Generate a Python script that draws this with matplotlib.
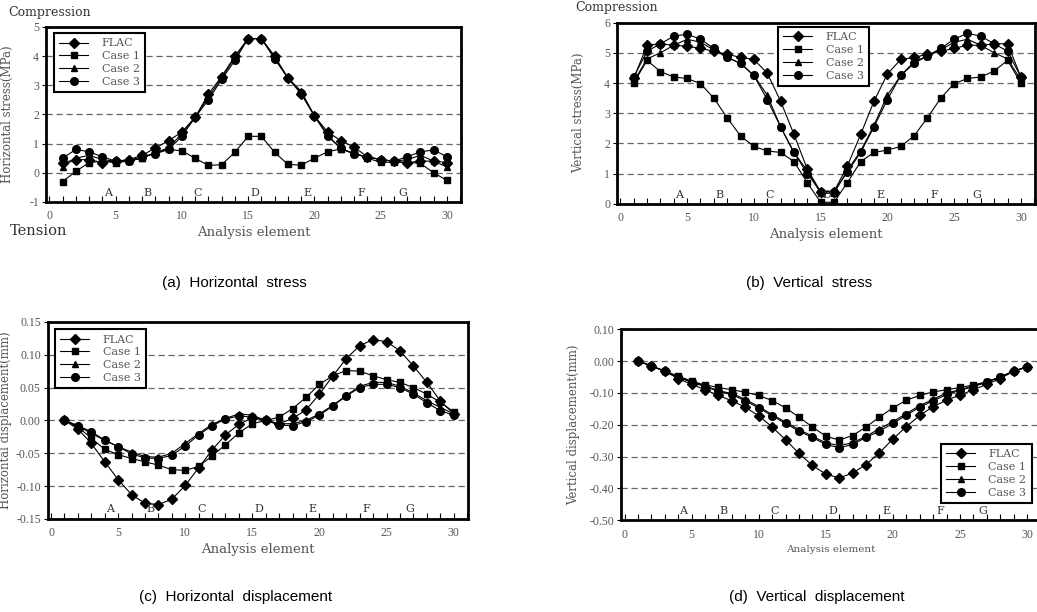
import numpy as np
import matplotlib.pyplot as plt
from matplotlib.ticker import MultipleLocator

elements = list(range(1, 31))
series_names = ["FLAC", "Case 1", "Case 2", "Case 3"]
zone_labels = ["A", "B", "C", "D", "E", "F", "G"]
zone_pos = [4.4, 7.4, 11.2, 15.5, 19.5, 23.5, 26.7]

# (a) horizontal stress (MPa)
hs_flac = [0.35, 0.45, 0.45, 0.35, 0.40, 0.45, 0.60, 0.85, 1.10, 1.40, 1.90, 2.70, 3.30, 4.00, 4.60,
           4.60, 4.00, 3.25, 2.70, 1.95, 1.40, 1.10, 0.88, 0.55, 0.45, 0.40, 0.35, 0.40, 0.40, 0.35]
hs_case1 = [-0.30, 0.05, 0.35, 0.40, 0.35, 0.40, 0.50, 0.70, 0.80, 0.75, 0.50, 0.25, 0.28, 0.70, 1.25,
            1.25, 0.70, 0.29, 0.26, 0.50, 0.72, 0.82, 0.67, 0.50, 0.36, 0.36, 0.36, 0.32, 0.00, -0.26]
hs_case2 = [0.20, 0.50, 0.60, 0.45, 0.40, 0.42, 0.50, 0.70, 0.85, 1.35, 1.90, 2.60, 3.25, 3.95, 4.60,
            4.60, 3.95, 3.25, 2.80, 1.95, 1.30, 0.82, 0.65, 0.55, 0.45, 0.40, 0.45, 0.60, 0.40, 0.20]
hs_case3 = [0.50, 0.80, 0.72, 0.55, 0.40, 0.42, 0.55, 0.65, 0.80, 1.25, 1.90, 2.50, 3.20, 3.85, 4.60,
            4.60, 3.90, 3.25, 2.75, 1.95, 1.25, 0.84, 0.64, 0.55, 0.45, 0.40, 0.55, 0.72, 0.78, 0.55]

# (b) vertical stress (MPa)
vs_flac = [4.15, 5.25, 5.30, 5.25, 5.22, 5.15, 5.05, 4.95, 4.85, 4.78, 4.33, 3.40, 2.30, 1.15, 0.40,
           0.40, 1.25, 2.30, 3.40, 4.30, 4.78, 4.85, 4.95, 5.05, 5.15, 5.25, 5.25, 5.30, 5.30, 4.20]
vs_case1 = [4.00, 4.75, 4.38, 4.20, 4.15, 3.98, 3.50, 2.85, 2.25, 1.90, 1.75, 1.70, 1.40, 0.70, 0.05,
            0.05, 0.70, 1.40, 1.70, 1.78, 1.90, 2.25, 2.85, 3.50, 3.98, 4.15, 4.20, 4.40, 4.75, 4.00]
vs_case2 = [4.05, 4.80, 5.00, 5.25, 5.45, 5.35, 5.10, 4.85, 4.65, 4.25, 3.60, 2.55, 1.70, 1.10, 0.35,
            0.35, 1.10, 1.75, 2.60, 3.60, 4.25, 4.70, 4.90, 5.10, 5.35, 5.45, 5.25, 5.00, 4.80, 4.10]
vs_case3 = [4.20, 5.05, 5.30, 5.55, 5.62, 5.45, 5.15, 4.85, 4.65, 4.25, 3.45, 2.55, 1.70, 1.00, 0.40,
            0.40, 1.05, 1.70, 2.55, 3.45, 4.25, 4.65, 4.90, 5.15, 5.45, 5.65, 5.55, 5.30, 5.05, 4.20]

# (c) horizontal displacement (mm)
hd_flac = [0.0, -0.013, -0.035, -0.063, -0.090, -0.113, -0.126, -0.128, -0.120, -0.099, -0.072, -0.045,
           -0.022, -0.006, 0.004, 0.0, -0.005, 0.003, 0.016, 0.040, 0.068, 0.094, 0.114, 0.123, 0.120,
           0.106, 0.083, 0.058, 0.030, 0.010]
hd_case1 = [0.0, -0.010, -0.027, -0.044, -0.052, -0.058, -0.063, -0.068, -0.075, -0.076, -0.070, -0.054,
            -0.037, -0.019, -0.005, 0.0, 0.005, 0.018, 0.035, 0.055, 0.068, 0.076, 0.075, 0.068, 0.062,
            0.058, 0.050, 0.040, 0.028, 0.013]
hd_case2 = [0.0, -0.008, -0.020, -0.030, -0.040, -0.048, -0.055, -0.056, -0.050, -0.035, -0.020, -0.006,
            0.003, 0.010, 0.008, 0.0, -0.005, -0.005, 0.0, 0.010, 0.023, 0.038, 0.052, 0.058, 0.058,
            0.052, 0.042, 0.030, 0.020, 0.010]
hd_case3 = [0.0, -0.008, -0.017, -0.030, -0.040, -0.051, -0.057, -0.058, -0.053, -0.039, -0.022, -0.008,
            0.002, 0.007, 0.005, 0.0, -0.007, -0.008, -0.002, 0.008, 0.022, 0.037, 0.050, 0.055, 0.055,
            0.050, 0.040, 0.027, 0.015, 0.008]

# (d) vertical displacement (mm)
vd_flac = [0.0, -0.015, -0.032, -0.055, -0.073, -0.090, -0.108, -0.125, -0.145, -0.172, -0.207, -0.247,
           -0.290, -0.328, -0.355, -0.367, -0.352, -0.325, -0.288, -0.245, -0.206, -0.171, -0.143, -0.123,
           -0.107, -0.090, -0.073, -0.055, -0.032, -0.018]
vd_case1 = [0.0, -0.015, -0.032, -0.047, -0.063, -0.075, -0.083, -0.090, -0.098, -0.108, -0.124, -0.147,
            -0.176, -0.207, -0.236, -0.248, -0.234, -0.207, -0.176, -0.147, -0.123, -0.108, -0.097, -0.090,
            -0.083, -0.075, -0.065, -0.050, -0.032, -0.018]
vd_case2 = [0.0, -0.015, -0.032, -0.050, -0.065, -0.078, -0.093, -0.102, -0.120, -0.143, -0.168, -0.192,
            -0.215, -0.236, -0.257, -0.265, -0.257, -0.236, -0.213, -0.190, -0.165, -0.140, -0.120, -0.100,
            -0.090, -0.078, -0.065, -0.050, -0.032, -0.018]
vd_case3 = [0.0, -0.015, -0.032, -0.050, -0.067, -0.080, -0.095, -0.105, -0.125, -0.147, -0.172, -0.196,
            -0.220, -0.240, -0.262, -0.272, -0.262, -0.240, -0.220, -0.196, -0.170, -0.145, -0.125, -0.105,
            -0.092, -0.080, -0.067, -0.050, -0.032, -0.018]

markers = ["D", "s", "^", "o"]
msizes = [5, 5, 5, 5.5]
serif = "DejaVu Serif"
tickfont = "Liberation Serif"
gray = "#555555"


def draw_panel(ax, data, ylim, ystep, yfmt, ylabel, ylabel_x, legend_loc, legend_anchor, xlabel_size=9.5):
    for vals, name, m, ms in zip(data, series_names, markers, msizes):
        ax.plot(elements, vals, color="black", lw=0.8, marker=m, ms=ms, label=name)
    ax.set_xlim(-0.25, 31.05)
    ax.xaxis.set_minor_locator(MultipleLocator(1))
    ax.set_xticks(range(0, 31, 5))
    ax.set_xticklabels([str(v) for v in range(0, 31, 5)], fontfamily=tickfont)
    yt = np.arange(ylim[0], ylim[1] + ystep / 2, ystep)
    ax.set_yticks(yt)
    ax.set_yticklabels([yfmt.format(v).replace("-0.00", "0.00") for v in yt], fontfamily=tickfont)
    ax.set_ylim(*ylim)
    ax.tick_params(axis="x", which="both", direction="in", length=4, width=0.8, colors="black",
                   labelcolor=gray, labelsize=8.5, pad=6)
    ax.tick_params(axis="y", which="major", direction="out", length=3, width=0.8,
                   labelcolor=gray, labelsize=8.5, pad=2)
    ax.yaxis.grid(True, ls=(0, (5, 3)), color="#666666", lw=0.9)
    for s in ax.spines.values():
        s.set_linewidth(2)
    for lab, p in zip(zone_labels, zone_pos):
        ax.text(p, ylim[0] + 0.05 * (ylim[1] - ylim[0]), lab, ha="center", va="center",
                fontsize=8, family=serif, color="#333333")
    ax.set_xlabel("Analysis element", family=serif, fontsize=xlabel_size, color=gray, labelpad=3)
    ax.set_ylabel(ylabel, family=serif, fontsize=8.5, color=gray)
    ax.yaxis.set_label_coords(ylabel_x, 0.5)
    leg = ax.legend(loc=legend_loc, bbox_to_anchor=legend_anchor, borderaxespad=0, fancybox=False,
                    framealpha=1, edgecolor="black", handlelength=2.6, labelspacing=0.25,
                    prop={"family": serif, "size": 8}, borderpad=0.5, handletextpad=1.2)
    leg.get_frame().set_linewidth(1.5)
    for t in leg.get_texts():
        t.set_color(gray)


fig = plt.figure(figsize=(10.37, 6.12), dpi=100)

ax_a = fig.add_axes([0.0444, 0.670, 0.400, 0.286])
draw_panel(ax_a, [hs_flac, hs_case1, hs_case2, hs_case3], (-1, 5), 1, "{:.0f}",
           "Horizontal stress(MPa)", -0.077, "upper left", (0.019, 0.966))

ax_b = fig.add_axes([0.595, 0.667, 0.403, 0.296])
draw_panel(ax_b, [vs_flac, vs_case1, vs_case2, vs_case3], (0, 6), 1, "{:.0f}",
           "Vertical stress(MPa)", -0.077, "upper left", (0.385, 0.978))

ax_c = fig.add_axes([0.046, 0.152, 0.405, 0.322])
draw_panel(ax_c, [hd_flac, hd_case1, hd_case2, hd_case3], (-0.15, 0.15), 0.05, "{:.2f}",
           "Horizontal displacement(mm)", -0.084, "upper left", (0.017, 0.964))

ax_d = fig.add_axes([0.599, 0.150, 0.405, 0.312])
draw_panel(ax_d, [vd_flac, vd_case1, vd_case2, vd_case3], (-0.5, 0.1), 0.1, "{:.2f}",
           "Vertical displacement(mm)", -0.098, "lower right", (0.978, 0.089), xlabel_size=7.5)

fig.text(0.008, 0.980, "Compression", family=serif, fontsize=9, color="#333333", va="center")
fig.text(0.010, 0.622, "Tension", family=serif, fontsize=10.5, color="#333333", va="center")
fig.text(0.555, 0.999, "Compression", family=serif, fontsize=9, color="#333333", va="top")

fig.text(0.226, 0.538, "(a)  Horizontal  stress", family="Liberation Sans", fontsize=11, ha="center", va="center")
fig.text(0.780, 0.538, "(b)  Vertical  stress", family="Liberation Sans", fontsize=11, ha="center", va="center")
fig.text(0.227, 0.025, "(c)  Horizontal  displacement", family="Liberation Sans", fontsize=11, ha="center", va="center")
fig.text(0.788, 0.025, "(d)  Vertical  displacement", family="Liberation Sans", fontsize=11, ha="center", va="center")

fig.savefig("out.png", dpi=100)
